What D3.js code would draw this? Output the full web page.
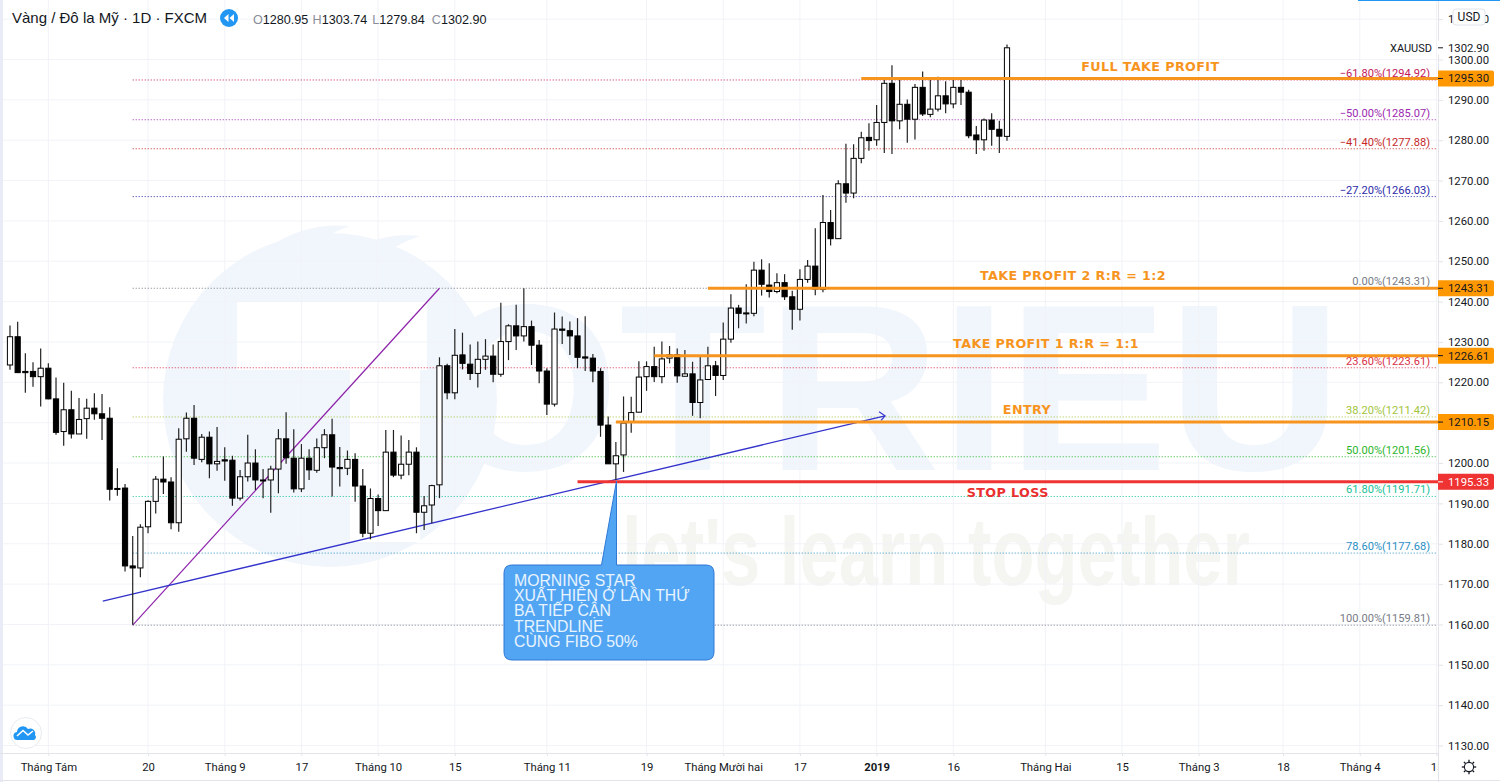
<!DOCTYPE html>
<html>
<head>
<meta charset="utf-8">
<script src="https://cdn.jsdelivr.net/npm/d3@7"></script>
<style>
    html, body { margin: 0; padding: 0; background: #fff; }
    svg { display: block; font-family: Roboto, sans-serif; }
    .axis text { font-size: 11.3px; fill: #131722; font-family: Roboto, sans-serif; }
    .axis path, .axis line { stroke: #e2e4ea; }
</style>
</head>
<body>
<svg id="chart" width="1500" height="782"></svg>
<script>
const opens = [
    1224.3,1231.3,1222.7,1222.7,1221.4,1223.5,1215.9,1207.8,1213.2,1207.2,
    1211.0,1213.6,1212.2,1211.1,1193.7,1193.8,1174.5,1174.0,1184.2,1190.5,
    1196.0,1195.3,1185.2,1206.0,1211.1,1200.9,1206.4,1199.8,1200.8,1200.7,
    1191.3,1196.6,1200.0,1195.8,1195.8,1198.5,1206.0,1201.2,1193.6,1201.2,
    1198.2,1203.8,1207.0,1198.9,1198.7,1200.9,1194.3,1182.6,1191.2,1188.2,
    1202.7,1197.0,1199.7,1202.7,1187.8,1189.6,1194.6,1224.1,1217.4,1226.8,
    1224.5,1222.2,1225.7,1226.5,1222.0,1230.1,1234.0,1231.5,1233.8,1229.2,
    1222.8,1214.6,1233.2,1232.8,1231.5,1226.3,1226.0,1222.7,1209.4,1199.8,
    1202.0,1210.2,1212.6,1221.4,1223.9,1221.4,1226.0,1226.8,1221.5,1222.1,
    1215.0,1220.7,1224.1,1221.7,1230.7,1238.4,1237.2,1237.1,1247.8,1244.1,
    1242.5,1244.7,1241.2,1238.1,1245.5,1248.8,1243.0,1259.6,1255.6,1269.2,
    1266.9,1275.5,1280.7,1280.1,1284.4,1294.1,1284.8,1288.9,1285.2,1293.1,
    1286.4,1287.7,1291.0,1289.0,1293.1,1291.9,1281.3,1280.1,1285.0,1282.7,1280.95];
const highs = [
    1234.1,1235.0,1227.2,1225.0,1228.4,1224.7,1221.2,1219.9,1217.9,1216.1,
    1215.9,1217.3,1217.1,1213.8,1198.7,1194.8,1181.9,1184.8,1190.8,1196.8,
    1201.6,1196.5,1208.6,1212.5,1214.4,1207.2,1207.8,1208.9,1203.9,1201.8,
    1198.3,1207.0,1203.4,1198.5,1199.3,1208.4,1212.6,1208.4,1204.7,1203.4,
    1206.1,1208.4,1211.0,1204.0,1203.1,1202.4,1198.5,1193.7,1192.2,1208.2,
    1208.2,1206.8,1205.7,1203.9,1191.8,1194.6,1226.2,1224.6,1233.2,1232.3,
    1229.4,1230.1,1230.7,1229.4,1239.7,1234.4,1239.2,1243.3,1235.3,1230.5,
    1223.5,1237.3,1236.3,1235.1,1235.9,1236.4,1227.0,1223.5,1211.5,1205.2,
    1216.5,1216.4,1225.2,1225.2,1228.8,1230.1,1229.0,1228.4,1228.0,1225.1,
    1226.4,1228.8,1225.3,1234.8,1241.8,1239.2,1244.3,1249.9,1250.5,1249.5,
    1247.0,1246.8,1242.7,1248.0,1250.3,1258.2,1266.4,1262.7,1270.1,1279.1,
    1279.0,1282.1,1284.2,1288.7,1294.9,1298.6,1295.1,1290.1,1293.9,1297.0,
    1294.9,1295.7,1294.6,1294.9,1295.1,1292.5,1283.5,1285.4,1286.7,1284.8,1303.74];
const lows = [
    1223.1,1222.3,1217.4,1218.9,1214.0,1215.8,1207.0,1204.3,1206.1,1207.2,
    1206.0,1210.7,1205.7,1190.7,1191.9,1173.1,1159.9,1171.7,1182.6,1187.5,
    1192.3,1183.6,1183.0,1202.8,1199.5,1200.2,1196.2,1198.1,1195.6,1189.4,
    1190.7,1195.4,1193.3,1191.3,1187.7,1192.5,1199.8,1192.7,1192.8,1195.8,
    1197.6,1201.2,1191.7,1194.2,1197.0,1190.4,1181.6,1181.1,1184.4,1188.2,
    1196.5,1196.0,1197.0,1182.6,1183.4,1185.1,1191.3,1215.8,1215.8,1223.2,
    1220.6,1218.7,1223.1,1220.0,1221.4,1225.5,1228.0,1230.1,1224.3,1219.8,
    1211.9,1214.0,1229.5,1226.8,1223.5,1222.8,1220.0,1206.5,1199.8,1195.8,
    1197.8,1207.5,1212.6,1217.9,1220.1,1219.8,1224.7,1219.9,1221.5,1211.7,
    1211.1,1220.7,1216.6,1220.6,1229.8,1233.4,1234.6,1236.4,1241.5,1241.0,
    1242.1,1240.4,1233.0,1235.3,1244.7,1241.6,1242.3,1253.9,1255.6,1264.5,
    1265.6,1274.3,1277.4,1278.6,1276.8,1276.6,1282.7,1279.4,1280.2,1286.0,
    1285.7,1287.1,1286.7,1287.9,1288.7,1280.5,1276.6,1277.4,1278.6,1276.8,1279.84];
const closes = [
    1231.3,1222.4,1222.4,1221.4,1223.5,1215.9,1207.6,1213.2,1207.2,1210.8,
    1213.6,1212.2,1211.1,1193.5,1193.5,1174.5,1174.0,1184.1,1190.5,1196.0,
    1195.3,1185.2,1205.9,1211.1,1201.2,1206.4,1199.8,1200.4,1200.5,1191.3,
    1196.6,1200.0,1195.8,1195.6,1198.5,1206.0,1201.3,1193.6,1201.2,1198.3,
    1203.8,1207.0,1199.0,1198.6,1200.9,1194.3,1182.6,1191.2,1188.2,1202.7,
    1197.0,1199.7,1202.7,1187.8,1189.4,1194.4,1224.1,1217.4,1226.7,1224.7,
    1222.2,1225.7,1226.5,1222.0,1230.1,1234.0,1231.5,1233.8,1229.2,1222.8,
    1214.6,1233.2,1232.9,1231.5,1226.2,1226.0,1222.8,1209.4,1199.8,1201.8,
    1209.9,1212.5,1221.3,1223.9,1221.4,1225.8,1226.8,1221.6,1222.1,1215.0,
    1220.6,1224.1,1221.7,1230.7,1238.4,1237.1,1237.0,1247.8,1244.3,1242.5,
    1244.7,1241.2,1238.1,1245.5,1248.8,1243.1,1259.6,1255.6,1269.2,1266.9,
    1275.5,1280.6,1279.9,1284.4,1294.1,1284.8,1288.9,1285.2,1293.1,1286.5,
    1287.7,1291.0,1289.0,1293.1,1291.9,1281.1,1280.1,1285.0,1282.7,1281.0,1302.90];

const tickBars = [5, 18, 28, 38, 48, 58, 70, 83, 93, 103, 113, 123, 135, 145, 155, 166, 176, 186];
const tickLabels = ["Tháng Tám", "20", "Tháng 9", "17", "Tháng 10", "15", "Tháng 11", "19", "Tháng Mười hai", "17",
    "2019", "16", "Tháng Hai", "15", "Tháng 3", "18", "Tháng 4", "15"];
const priceTicks = d3.range(1130, 1311, 10);

const fibLabels = ["−61.80%", "−50.00%", "−41.40%", "−27.20%", "0.00%", "23.60%", "38.20%", "50.00%", "61.80%", "78.60%", "100.00%"];
const fibValues = [1294.92, 1285.07, 1277.88, 1266.03, 1243.31, 1223.61, 1211.42, 1201.56, 1191.71, 1177.68, 1159.81];
const fibColors = ["#c2185b", "#9c27b0", "#c62828", "#2a2aa8", "#787b86", "#d8304a", "#a2c43c", "#2bb52b", "#16c196", "#2a8fc4", "#787b86"];

const levelNames = ["FULL TAKE PROFIT", "TAKE PROFIT 2 R:R = 1:2", "TAKE PROFIT 1 R:R = 1:1", "ENTRY", "STOP LOSS"];
const levelPrices = [1295.30, 1243.31, 1226.61, 1210.15, 1195.33];
const levelStartBars = [111, 91, 84, 79, 74];
const levelNameBars = [148.7, 138.6, 135.1, 132.6, 130.1];

const blueTrendBars = [12.1, 114.1];
const blueTrendPrices = [1165.8, 1211.7];
const purpleTrendBars = [16, 56];
const purpleTrendPrices = [1159.81, 1243.31];

const calloutLines = ["MORNING STAR", "XUẤT HIỆN Ở LẦN THỨ", "BA TIẾP CẬN", "TRENDLINE", "CÙNG FIBO 50%"];

const svg = d3.select("#chart"),
    width = +svg.attr("width"),
    height = +svg.attr("height");

const paneRight = 1438,
    paneBottom = 753;

const x = d3.scaleLinear().domain([0, 130]).range([10, 1007]);
const y = d3.scaleLinear().domain([1130, 1300]).range([745.5, 59.5]);

svg.append("defs").append("clipPath")
    .attr("id", "pane-clip")
    .append("rect")
    .attr("width", paneRight)
    .attr("height", height);

svg.append("rect").attr("width", width).attr("height", height).attr("fill", "#fff");

// watermark sits under everything
const mark = svg.append("g").attr("fill", "#f1f6fc");
mark.append("circle").attr("cx", 330).attr("cy", 400).attr("r", 167);
mark.append("path").attr("d", "M238 285 C262 240 305 222 350 226 C322 236 300 250 292 285 Z");
mark.append("path").attr("d", "M325 272 C350 244 385 232 420 236 C392 246 376 258 368 272 Z");
mark.append("rect").attr("x", 237).attr("y", 302).attr("width", 190).attr("height", 68).attr("fill", "#fff");
mark.append("rect").attr("x", 350).attr("y", 302).attr("width", 70).attr("height", 240).attr("fill", "#fff");
mark.append("text")
    .attr("x", 432)
    .attr("y", 470)
    .attr("textLength", 910)
    .attr("lengthAdjust", "spacingAndGlyphs")
    .style("font-family", "Liberation Sans")
    .style("font-weight", "bold")
    .style("font-size", "238px")
    .text("OTRIEU");
svg.append("text")
    .attr("x", 622)
    .attr("y", 585)
    .attr("textLength", 628)
    .attr("lengthAdjust", "spacingAndGlyphs")
    .attr("fill", "#f5f5f2")
    .style("font-family", "Liberation Sans")
    .style("font-weight", "bold")
    .style("font-size", "96px")
    .text("let's learn together");

// grid
svg.append("g").selectAll("line")
    .data(priceTicks)
    .join("line")
    .attr("x1", 0)
    .attr("x2", paneRight)
    .attr("y1", d => y(d))
    .attr("y2", d => y(d))
    .attr("stroke", "#f1f3f8");
svg.append("g").attr("clip-path", "url(#pane-clip)").selectAll("line")
    .data(tickBars)
    .join("line")
    .attr("x1", d => x(d))
    .attr("x2", d => x(d))
    .attr("y1", 0)
    .attr("y2", paneBottom)
    .attr("stroke", "#f1f3f8");

svg.append("rect").attr("width", 3).attr("height", height).attr("fill", "#e9ebf6");

// fibonacci levels
const fib = svg.append("g").selectAll("g")
    .data(fibValues)
    .join("g");
fib.append("line")
    .attr("x1", x(16))
    .attr("x2", paneRight - 1)
    .attr("y1", d => y(d))
    .attr("y2", d => y(d))
    .attr("stroke", (d, i) => fibColors[i])
    .attr("stroke-width", 1)
    .attr("stroke-dasharray", "1 2");
fib.append("text")
    .attr("x", 1430)
    .attr("y", d => y(d) - 3)
    .attr("text-anchor", "end")
    .attr("fill", (d, i) => fibColors[i])
    .style("font-size", "11.1px")
    .text((d, i) => `${fibLabels[i]}(${d.toFixed(2)})`);

// trend lines
const trendLine = d3.line();
svg.append("path")
    .attr("d", trendLine(purpleTrendBars.map((b, i) => [x(b), y(purpleTrendPrices[i])])))
    .attr("fill", "none")
    .attr("stroke", "#8e24aa")
    .attr("stroke-width", 1.2);
svg.append("path")
    .attr("d", trendLine(blueTrendBars.map((b, i) => [x(b), y(blueTrendPrices[i])])))
    .attr("fill", "none")
    .attr("stroke", "#3333cc")
    .attr("stroke-width", 1.3);
const tipX = x(blueTrendBars[1]), tipY = y(blueTrendPrices[1]);
svg.append("path")
    .attr("d", `M${tipX - 6},${tipY - 4}L${tipX},${tipY}L${tipX - 4},${tipY + 4.5}`)
    .attr("fill", "none")
    .attr("stroke", "#3333cc")
    .attr("stroke-width", 1.2);

// candles
const candles = svg.append("g").selectAll("g")
    .data(opens.map((o, i) => ({i, o, h: highs[i], l: lows[i], c: closes[i]})))
    .join("g");
candles.append("line")
    .attr("x1", d => x(d.i))
    .attr("x2", d => x(d.i))
    .attr("y1", d => y(d.h))
    .attr("y2", d => y(d.l))
    .attr("stroke", "#222")
    .attr("stroke-width", 1.2);
candles.append("rect")
    .attr("x", d => x(d.i) - 2.6)
    .attr("width", 5.2)
    .attr("y", d => y(Math.max(d.o, d.c)))
    .attr("height", d => Math.max(1, y(Math.min(d.o, d.c)) - y(Math.max(d.o, d.c))))
    .attr("fill", d => d.c >= d.o ? "#fff" : "#000")
    .attr("stroke", "#000")
    .attr("stroke-width", 1);

// orange and red levels
svg.append("g").selectAll("line")
    .data(levelPrices)
    .join("line")
    .attr("x1", (d, i) => x(levelStartBars[i]))
    .attr("x2", paneRight)
    .attr("y1", d => y(d))
    .attr("y2", d => y(d))
    .attr("stroke", (d, i) => i === 4 ? "#ef3333" : "#f7941d")
    .attr("stroke-width", 3);
svg.append("g").selectAll("text")
    .data(levelNames)
    .join("text")
    .attr("x", (d, i) => x(levelNameBars[i]))
    .attr("y", (d, i) => y(levelPrices[i]) - (i === 4 ? -15 : i === 0 ? 7 : 8))
    .attr("text-anchor", "middle")
    .attr("fill", (d, i) => i === 4 ? "#ea2f2f" : "#f7941d")
    .style("font-family", "DejaVu Sans")
    .style("font-weight", "bold")
    .style("font-size", "12.7px")
    .style("letter-spacing", "0.4px")
    .text(d => d);

// callout
const callout = svg.append("g");
callout.append("path")
    .attr("d", "M512,565H601.5L616.5,481V565H706Q714,565 714,573V652Q714,660 706,660H512Q504,660 504,652V573Q504,565 512,565Z")
    .attr("fill", "#52a5f3")
    .attr("stroke", "#2f78d6")
    .attr("stroke-width", 1);
callout.selectAll("text")
    .data(calloutLines)
    .join("text")
    .attr("x", 514)
    .attr("y", (d, i) => 586 + i * 15.2)
    .attr("fill", "#e8f4fe")
    .style("font-family", "Liberation Sans")
    .style("font-size", "15.8px")
    .text(d => d);

// axes
svg.append("rect").attr("x", paneRight).attr("width", width - paneRight).attr("height", height).attr("fill", "#fff");

svg.append("g")
    .attr("class", "axis")
    .attr("transform", `translate(${paneRight},0)`)
    .call(d3.axisRight(y).tickValues(priceTicks).tickSize(5).tickPadding(5).tickFormat(d3.format(".2f")))
    .call(g => g.select(".domain").attr("d", `M0.5,0V${height}`));

const xAxis = svg.append("g")
    .attr("class", "axis")
    .attr("clip-path", "url(#pane-clip)")
    .attr("transform", `translate(0,${paneBottom})`)
    .call(d3.axisBottom(x).tickValues(tickBars).tickSize(3).tickPadding(7).tickFormat((d, i) => tickLabels[i]));
xAxis.select(".domain").attr("d", `M0,0.5H${paneRight}`);
xAxis.selectAll("text").style("font-weight", (d, i) => tickLabels[i] === "2019" ? "bold" : "normal");

svg.append("line").attr("x1", 0).attr("x2", width).attr("y1", 780.5).attr("y2", 780.5).attr("stroke", "#e2e4ea");
svg.append("line").attr("x1", 1358).attr("x2", width).attr("y1", 0.5).attr("y2", 0.5).attr("stroke", "#2196f3");

// price tags
const tagPrices = levelPrices.slice();
const tags = svg.append("g").selectAll("g")
    .data(tagPrices)
    .join("g")
    .attr("transform", d => `translate(${paneRight},${y(d)})`);
tags.append("path")
    .attr("d", "M0,-8H54Q56,-8 56,-6V6Q56,8 54,8H0Z")
    .attr("fill", (d, i) => i === 4 ? "#ef3333" : "#ff9800");
tags.append("line").attr("x2", 5).attr("stroke", (d, i) => i === 4 ? "#fff" : "#131722");
tags.append("text")
    .attr("x", 10)
    .attr("dy", "0.35em")
    .attr("fill", (d, i) => i === 4 ? "#fff" : "#131722")
    .style("font-size", "11.3px")
    .text(d => d.toFixed(2));

// last price
const lastPrice = closes[closes.length - 1];
const lastTag = svg.append("g").attr("transform", `translate(${paneRight},${y(lastPrice)})`);
lastTag.append("rect").attr("y", -7).attr("width", 54).attr("height", 14).attr("fill", "#fff");
lastTag.append("line").attr("x2", 5).attr("stroke", "#131722");
lastTag.append("text").attr("x", 10).attr("dy", "0.35em").attr("fill", "#131722").style("font-size", "11.3px").text(lastPrice.toFixed(2));
lastTag.append("text").attr("x", -6).attr("dy", "0.35em").attr("text-anchor", "end").attr("fill", "#131722").style("font-size", "11px").text("XAUUSD");

svg.append("rect")
    .attr("x", 1453).attr("y", 9).attr("width", 32).attr("height", 16).attr("rx", 3)
    .attr("fill", "#fff").attr("stroke", "#e2e4ea");
svg.append("text")
    .attr("x", 1469).attr("y", 21).attr("text-anchor", "middle").attr("fill", "#131722")
    .style("font-size", "12px").text("USD");

// header
svg.append("text")
    .attr("x", 12).attr("y", 23).attr("fill", "#131722")
    .style("font-family", "Liberation Sans").style("font-size", "15px")
    .text("Vàng / Đô la Mỹ · 1D · FXCM");
svg.append("circle").attr("cx", 229).attr("cy", 18).attr("r", 9).attr("fill", "#2196f3");
svg.append("path").attr("d", "M228.5,14V22L224,18ZM234,14V22L229.5,18Z").attr("fill", "#fff");

const ohlcKeys = ["O", "H", "L", "C"];
const ohlcLast = [opens[130], highs[130], lows[130], closes[130]];
const ohlc = svg.append("g").selectAll("text")
    .data(ohlcKeys)
    .join("text")
    .attr("x", (d, i) => 253 + i * 59.6)
    .attr("y", 24)
    .style("font-family", "Liberation Sans")
    .style("font-size", "12.6px");
ohlc.append("tspan").attr("fill", "#8a8e99").text(d => d);
ohlc.append("tspan").attr("fill", "#131722").text((d, i) => ohlcLast[i].toFixed(2));

// tradingview badge
svg.append("circle").attr("cx", 26).attr("cy", 733).attr("r", 15.5).attr("fill", "#fff").attr("stroke", "#e8ebf0");
svg.append("path")
    .attr("d", "M18,740a4,4 0 0 1 -1,-8a6,6 0 0 1 11,-3a5,5 0 0 1 7,6a3,3 0 0 1 -1,5Z")
    .attr("fill", "#2196f3");
svg.append("path")
    .attr("d", "M17,736L23,730.5L28,735L33,731")
    .attr("fill", "none").attr("stroke", "#fff").attr("stroke-width", 1.6);

// settings gear
svg.append("circle").attr("cx", 1469).attr("cy", 767).attr("r", 4.6).attr("fill", "none").attr("stroke", "#131722").attr("stroke-width", 1.1);
svg.append("g").selectAll("line")
    .data(d3.range(0, 360, 45))
    .join("line")
    .attr("x1", 1469).attr("x2", 1469).attr("y1", 767 - 5).attr("y2", 767 - 7.2)
    .attr("transform", d => `rotate(${d},1469,767)`)
    .attr("stroke", "#131722").attr("stroke-width", 1.3);
</script>
</body>
</html>
